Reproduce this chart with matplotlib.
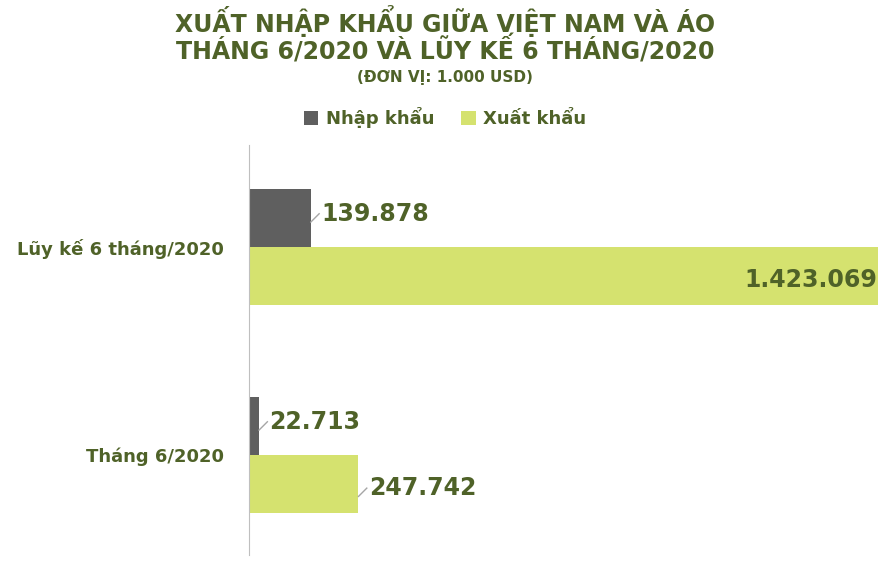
import matplotlib.pyplot as plt

categories = ["Tháng 6/2020", "Lũy kế 6 tháng/2020"]
imports = [22713, 139878]
exports = [247742, 1423069]
series_names = ["Nhập khẩu", "Xuất khẩu"]

olive = "#4F6228"
c_imp = "#5F5F5F"
c_exp = "#D5E26F"

def fmt(v):
    return f"{v:,}".replace(",", ".")

fig = plt.figure(figsize=(8.9, 5.86), dpi=100)
ax = fig.add_axes([249/890, 1-555/586, (880-249)/890, 410/586])
h = 0.279
ys = list(range(len(categories)))
bi = ax.barh([y + h/2 for y in ys], imports, height=h, color=c_imp, label=series_names[0])
be = ax.barh([y - h/2 for y in ys], exports, height=h, color=c_exp, label=series_names[1])
xmax = 1428000
ax.set_xlim(0, xmax)
ax.set_ylim(-0.481, 1.49)
ax.set_xticks([])
ax.set_yticks(ys)
ax.set_yticklabels(categories, fontsize=13, fontweight="bold", color=olive)
ax.tick_params(axis="y", length=0, pad=18)
for s in ["top", "right", "bottom"]:
    ax.spines[s].set_visible(False)
ax.spines["left"].set_color("#BFBFBF")

def lab(x, y, v, inside=False):
    if inside:
        ax.text(x - 2000, y, fmt(v), ha="right", va="center", fontsize=17, fontweight="bold", color=olive)
    else:
        off = xmax * 0.022
        ax.plot([x, x + off*0.6], [y - 0.04, y], color="#A6A6A6", lw=1)
        ax.text(x + off*0.75, y, fmt(v), ha="left", va="center", fontsize=17, fontweight="bold", color=olive)

for y, v in zip(ys, imports):
    lab(v, y + h/2 + 0.02, v)
for y, v in zip(ys, exports):
    lab(v, y - h/2 - 0.02, v, inside=(v > xmax * 0.8))

fig.text(0.5, 0.965, "XUẤT NHẬP KHẨU GIỮA VIỆT NAM VÀ ÁO", ha="center", va="center", fontsize=17, fontweight="bold", color=olive)
fig.text(0.5, 0.915, "THÁNG 6/2020 VÀ LŨY KẾ 6 THÁNG/2020", ha="center", va="center", fontsize=17, fontweight="bold", color=olive)
fig.text(0.5, 0.868, "(ĐƠN VỊ: 1.000 USD)", ha="center", va="center", fontsize=11, fontweight="bold", color=olive)
fig.legend(handles=[bi, be], loc="center", bbox_to_anchor=(0.5, 1-118/586), ncol=2, frameon=False,
           prop={"size": 13, "weight": "bold"}, labelcolor=olive, handlelength=0.8, handleheight=0.8,
           columnspacing=1.5, handletextpad=0.4)
fig.savefig("out.png", dpi=100)
